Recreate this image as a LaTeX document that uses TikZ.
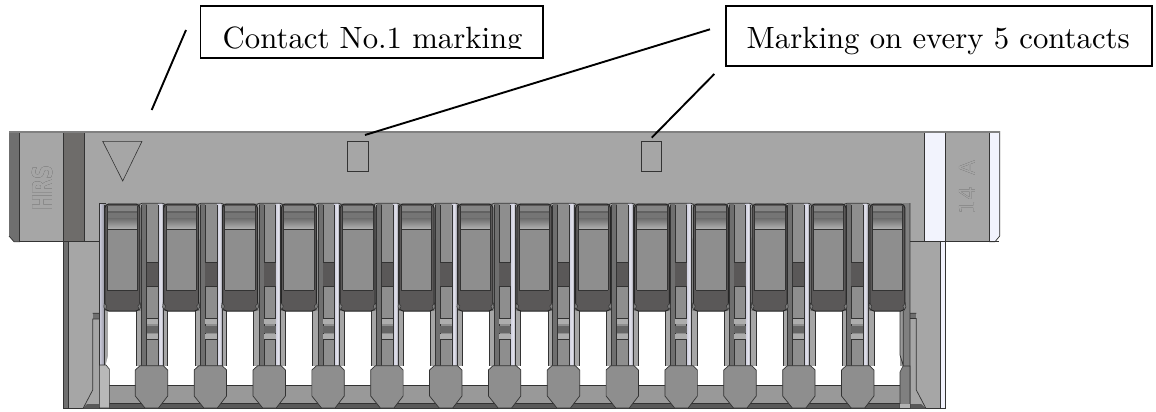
\documentclass[tikz,border=0pt]{standalone}
\usepackage{fontspec}
\usepackage[outline]{contour}
\newfontfamily\logofont{DejaVu Sans}
\newfontfamily\lmten{lmroman10-regular}[Extension=.otf]
\definecolor{body}{HTML}{A6A6A6}
\definecolor{band}{HTML}{6E6C6A}
\definecolor{lav}{HTML}{F2F3FD}
\definecolor{midg}{HTML}{8E8E8E}
\definecolor{darkg}{HTML}{5A5858}
\definecolor{stripd}{HTML}{6F6F6F}
\definecolor{shine}{HTML}{CFCFDF}
\definecolor{edge}{HTML}{333333}
\tikzset{
  edgeline/.style={draw=edge,line width=0.7pt},
  leader/.style={draw=black,line width=1.9pt},
  labelbox/.style={draw=black,line width=1.9pt,fill=white},
  labeltext/.style={inner sep=0pt,anchor=base west,font=\lmten\fontsize{30.75}{31}\selectfont},
  markshape/.style={draw=edge,line width=0.6pt},
}
\begin{document}
\begin{tikzpicture}[x=1pt,y=-1pt]
\useasboundingbox (0,0) rectangle (1156,412);
% lower housing
\fill[body] (63.5,242) rectangle (940.5,408);
\fill[lav] (940.5,242) rectangle (945.3,408);
\fill[stripd] (63.5,242) rectangle (68.5,408);
\draw[edgeline] (63.5,242) -- (63.5,408) -- (945.3,408) -- (945.3,242);
\draw[edgeline] (68.5,242) -- (68.5,408);
\draw[edgeline] (940.5,242) -- (940.5,408);
% top bar
\fill[body] (9,131) -- (999.7,131) -- (999.7,236) -- (995,241.7) -- (14,241.7) -- (9,236) -- cycle;
\fill[stripd] (9,131) -- (19.5,131) -- (19.5,241.7) -- (14,241.7) -- (9,236) -- cycle;
\fill[band] (63.5,131) rectangle (84.5,241.7);
\fill[lav] (924.3,131) rectangle (945.3,241.7);
\fill[lav] (989.3,131) -- (999.7,131) -- (999.7,236) -- (995,241.7) -- (989.3,241.7) -- cycle;
\draw[edgeline] (19.5,131) -- (19.5,241.7) -- (14,241.7) -- (9,236);
\draw[edgeline] (19.5,241.7) -- (999,241.7);
\draw[edgeline] (63.5,131) -- (63.5,241.7) (84.5,131) -- (84.5,241.7);
\draw[edgeline] (924.3,131) -- (924.3,241.7) (945.3,131) -- (945.3,241.7) (989.3,131) -- (989.3,241.7);
\draw[edgeline] (999.7,131) -- (999.7,236) -- (995,241.7) -- (989.3,241.7);
\fill[gray] (9,130.5) rectangle (999.7,132.5);
% markings
\draw[markshape] (102.7,141.3) -- (142,141.3) -- (122.7,181) -- cycle;
\draw[markshape] (347.3,141.3) rectangle (368,171.3);
\draw[markshape] (641.3,141.3) rectangle (661.7,171.3);
% engraved text
\contourlength{0.8pt}
\node[inner sep=0pt] (logo) at (43,188.5) {\rotatebox{90}{\scalebox{0.92}[1.3]{\logofont\bfseries\fontsize{21}{21}\selectfont\contour{black!78}{\textcolor{body}{HRS}}}}};
\node[inner sep=0pt] (rev) at (967.5,187.5) {\rotatebox{90}{\logofont\fontsize{22}{22}\selectfont\contourlength{0.6pt}\contour{black!75}{\textcolor{body}{14 \,A}}}};
% opening, floor
\fill[midg] (99.3,203) rectangle (910,311);
\fill[white] (99.3,311) rectangle (900,385.7);
\fill[white] (900,355) -- (903,366) -- (900,372) -- cycle;
\fill[black!40] (99.3,385.7) rectangle (905,404);
\fill[black!65] (87,404) -- (921,404) -- (925.7,408) -- (83.3,408) -- cycle;
\draw[edgeline] (99.3,385.7) -- (900,385.7);
\draw[edgeline] (87,403.7) -- (921,403.7);
% pins
\foreach \i in {0,...,12}{
  \pgfmathsetmacro\px{151.5+58.85*\i}
  \pgfmathsetmacro\dr{-0.125*\i}
  \begin{scope}[xshift=\px pt]
    \fill[black!35] (-15.5,311) rectangle (16.2,366);
    \draw[edgeline] (-15.5,311) -- (-15.5,366) (16.2,311) -- (16.2,366);
    \begin{scope}[xshift=\dr pt]
      \fill[black!35,rounded corners=3pt] (-12.5,203.3) rectangle (13,240);
      \fill[stripd] (-9.8,203.5) rectangle (-4.8,366);
      \fill[midg] (-4.8,203.5) rectangle (6.8,366);
      \fill[left color=shine,right color=black!25!shine,middle color=white!40!shine] (6.8,203.5) rectangle (11.8,366);
      \draw[edgeline] (-9.8,205) -- (-9.8,366) (-4.8,205) -- (-4.8,366) (6.8,205) -- (6.8,366) (11.8,205) -- (11.8,366);
      \draw[edgeline,rounded corners=3pt] (-12.5,240) -- (-12.5,203.3) -- (14,203.3) -- (14,240);
      % dark window
      \fill[darkg] (-4.8,262) rectangle (6.8,286);
      \draw[edgeline] (-4.8,262) -- (6.8,262) (-4.8,286) -- (6.8,286);
      % lower ribs
      \fill[black!32] (-4.8,318.3) rectangle (6.8,324);
      \fill[black!60] (-4.8,326) rectangle (6.8,332.7);
      \fill[black!32] (-4.8,334) rectangle (6.8,339);
      \draw[edgeline] (-4.8,318.3) -- (6.8,318.3) (-4.8,339) -- (6.8,339);
    \end{scope}
    % head
    \filldraw[fill=midg,draw=edge,line width=0.7pt] (-16.2,370) -- (-11.5,365.7) -- (11.8,365.7) -- (16.2,370) -- (16.2,396) -- (7,408) -- (-6.5,408) -- (-16.2,396) -- cycle;
  \end{scope}
}
% left end
\fill[body] (92.7,313) rectangle (99.3,390);
\fill[body] (92.7,390) -- (99.3,390) -- (99.3,408) -- (83.3,408) -- cycle;
\fill[black!65] (87,404) -- (99.3,404) -- (99.3,408) -- (83.3,408) -- cycle;
\fill[stripd] (92.7,313.3) rectangle (99.3,319);
\draw[edgeline] (99.3,319) -- (92.7,319) -- (92.7,390) -- (83.3,408) (92.7,313.3) -- (99.3,313.3);
\fill[black!35] (99.3,203) rectangle (108.3,365);
\fill[left color=shine,right color=black!25!shine] (99.3,203.5) rectangle (104,365);
\draw[edgeline] (99.3,203) -- (99.3,408);
\draw[edgeline] (104,205) -- (104,365);
\draw[edgeline] (99.3,203.3) -- (106,203.3);
\fill[white] (108.3,355) -- (105.7,365) -- (109.3,370) -- (109.3,350) -- cycle;
\filldraw[fill=black!28,draw=edge,line width=0.6pt] (99.3,365) -- (106,365) -- (109.3,369) -- (109.3,408) -- (99.3,408) -- cycle;
% right end
\fill[body] (910,313) rectangle (916.3,390);
\fill[body] (910,390) -- (916.3,390) -- (925.7,408) -- (910,408) -- cycle;
\fill[black!65] (910,404) -- (921,404) -- (925.7,408) -- (910,408) -- cycle;
\fill[stripd] (910,313.3) rectangle (916.3,318.5);
\draw[edgeline] (910,318.5) -- (916.3,318.5) -- (916.3,390) -- (925.7,408) (910,313.3) -- (916.3,313.3);
\fill[black!40] (900,311) rectangle (903.3,366);
\fill[black!50] (903.3,203) rectangle (910,366);
\draw[edgeline] (900,311) -- (900,355) -- (903.3,366) (903.3,311) -- (903.3,366) (910,203) -- (910,408);
\filldraw[fill=black!50,draw=edge,line width=0.6pt] (900,372) -- (903,366) -- (910,366) -- (910,408) -- (900,408) -- cycle;
\fill[black!30] (900.3,404.3) rectangle (909.7,407.6);
% bays
\foreach \i in {0,...,13}{
  \pgfmathsetmacro\cx{122.3+58.85*\i}
  \begin{scope}[xshift=\cx pt]
    \filldraw[fill=darkg,draw=black!85,line width=1pt,rounded corners=4pt] (-17.5,204) rectangle (17.5,311);
    \fill[midg] (-15.2,229) rectangle (15.2,290);
    \fill[black!48] (-15.2,205.5) rectangle (15.2,211);
    \fill[black!62] (-15.2,211) rectangle (15.2,213);
    \fill[black!54] (-15.2,213) rectangle (15.2,218);
    \fill[top color=black!58,bottom color=black!30] (-15.2,218) rectangle (15.2,229);
    \draw[edgeline] (-15.2,229) -- (15.2,229);
    \draw[edgeline] (-15.2,290) -- (15.2,290);
    \draw[edgeline] (-15.2,205.5) -- (-15.2,290) (15.2,205.5) -- (15.2,290);
    \filldraw[fill=black!50,draw=edge,line width=0.5pt] (-18,303) -- (-15.5,306) -- (-17,310) -- (-18.5,307) -- cycle;
    \filldraw[fill=black!50,draw=edge,line width=0.5pt] (18,303) -- (15.5,306) -- (17,310) -- (18.5,307) -- cycle;
  \end{scope}
}
% labels
\coordinate (b1a) at (200.5,5.7);
\coordinate (b1b) at (542.7,58);
\coordinate (b2a) at (726,5.7);
\coordinate (b2b) at (1151.7,65.7);
\fill[white] (b1a) rectangle (b1b);
\begin{scope}
  \clip (b1a) rectangle (542.7,48.8);
  \node[labeltext] (contactlabel) at (222.5,48.3) {Contact No.1 marking};
\end{scope}
\draw[labelbox,fill=none] (b1a) rectangle (b1b);
\draw[labelbox] (b2a) rectangle (b2b);
\node[labeltext] (everylabel) at (746.5,48.3) {Marking on every 5 contacts};
% leaders
\coordinate (l1a) at (186,30);
\coordinate (l1b) at (151.7,110);
\coordinate (l2a) at (710,29.3);
\coordinate (l2b) at (365,135);
\coordinate (l3a) at (714.3,74);
\coordinate (l3b) at (651.7,137.7);
\draw[leader] (l1a) -- (l1b);
\draw[leader] (l2a) -- (l2b);
\draw[leader] (l3a) -- (l3b);
\end{tikzpicture}
\end{document}
